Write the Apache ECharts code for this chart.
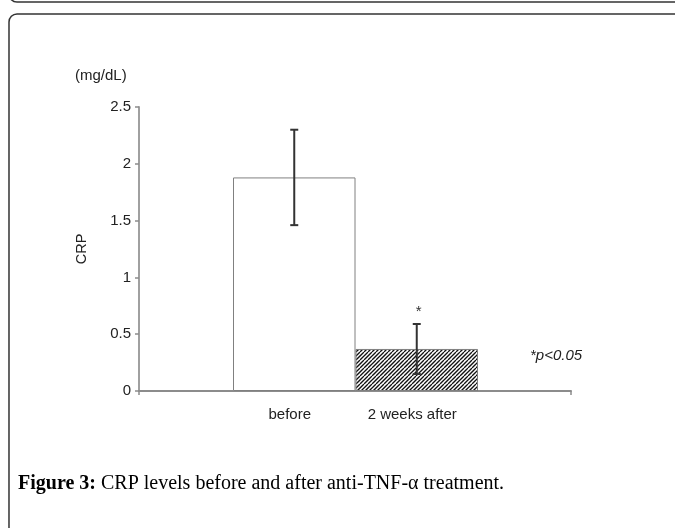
<!DOCTYPE html>
<html>
<head>
<meta charset="utf-8">
<script src="https://cdn.jsdelivr.net/npm/echarts@6/dist/echarts.min.js"></script>
<style>
html,body{margin:0;padding:0;background:#fff;}
#chart{width:675px;height:528px;}
</style>
</head>
<body>
<div id="chart"></div>
<script>
// ---- data ----
var categories = ['before', '2 weeks after'];
var crpMeans = [1.88, 0.37];
var crpErrors = [0.42, 0.22];
var significance = ['', '*'];
var yTicks = [0, 0.5, 1, 1.5, 2, 2.5];
var yUnit = '(mg/dL)';
var yName = 'CRP';
var pNote = '*p<0.05';
var captionBold = 'Figure 3:';
var captionText = ' CRP levels before and after anti-TNF-α treatment.';

// hatch pattern
var pat = document.createElement('canvas');
pat.width = 8; pat.height = 8;
var c = pat.getContext('2d');
c.fillStyle = '#fff'; c.fillRect(0, 0, 8, 8);
c.strokeStyle = '#111'; c.lineWidth = 1.3;
for (var k = -8; k <= 16; k += 4) {
  c.beginPath(); c.moveTo(k, 8); c.lineTo(k + 8, 0); c.stroke();
}

var chart = echarts.init(document.getElementById('chart'), null, {renderer: 'canvas'});
var axisFont = 'Liberation Sans, Arial, sans-serif';

var option = {
  backgroundColor: '#fff',
  animation: false,
  title: {
    left: 13, top: 469,
    text: '{b|' + captionBold + '}{n|' + captionText + '}',
    textStyle: {
      rich: {
        b: {fontFamily: 'Liberation Serif, serif', fontWeight: 'bold', fontSize: 20, color: '#000'},
        n: {fontFamily: 'Liberation Serif, serif', fontWeight: 'normal', fontSize: 20, color: '#000'}
      }
    }
  },
  grid: [
    {left: 139, top: 107, width: 432, height: 284},
    {left: 233, top: 107, width: 245, height: 284}
  ],
  xAxis: [
    {
      gridIndex: 0, type: 'category', data: [''],
      axisLine: {lineStyle: {color: '#8c8c8c', width: 2}},
      axisTick: {show: true, length: 4, lineStyle: {color: '#8c8c8c', width: 1.5}},
      axisLabel: {show: false}
    },
    {
      gridIndex: 1, type: 'category', data: categories,
      axisLine: {show: false}, axisTick: {show: false},
      axisLabel: {margin: 16, padding: [0, 9, 0, 0], fontFamily: axisFont, fontSize: 15, color: '#222'}
    }
  ],
  yAxis: [
    {
      gridIndex: 0, type: 'value', min: yTicks[0], max: yTicks[yTicks.length - 1], interval: yTicks[1] - yTicks[0],
      name: yName, nameLocation: 'middle', nameGap: 50, nameRotate: 90,
      nameTextStyle: {fontFamily: axisFont, fontSize: 14.5, color: '#222'},
      axisLine: {show: true, lineStyle: {color: '#a0a0a0', width: 2}},
      axisTick: {show: true, length: 4, lineStyle: {color: '#8c8c8c', width: 1.5}},
      axisLabel: {margin: 8, fontFamily: axisFont, fontSize: 15, color: '#222'},
      splitLine: {show: false}
    },
    {
      gridIndex: 1, type: 'value', min: yTicks[0], max: yTicks[yTicks.length - 1], show: false
    }
  ],
  graphic: [
    {type: 'rect', shape: {x: 9, y: -600, width: 720, height: 602, r: 8}, style: {fill: 'none', stroke: '#333', lineWidth: 1.5}, silent: true},
    {type: 'rect', shape: {x: 9, y: 14, width: 720, height: 600, r: 8}, style: {fill: 'none', stroke: '#333', lineWidth: 1.5}, silent: true},
    {type: 'text', left: 75, top: 68, style: {text: yUnit, font: '15px Liberation Sans, Arial, sans-serif', fill: '#222'}},
    {type: 'text', left: 530, top: 348, style: {text: pNote, font: 'italic 15px Liberation Sans, Arial, sans-serif', fill: '#222'}}
  ],
  series: [
    {
      type: 'bar', xAxisIndex: 1, yAxisIndex: 1, barWidth: '100%', barGap: '0%',
      data: crpMeans.map(function (v, i) {
        return {
          value: v,
          itemStyle: i === 0
            ? {color: '#fff', borderColor: '#808080', borderWidth: 1}
            : {color: {image: pat, repeat: 'repeat'}, borderColor: '#808080', borderWidth: 1}
        };
      })
    },
    {
      type: 'custom', xAxisIndex: 1, yAxisIndex: 1,
      data: crpMeans.map(function (v, i) { return [i, v, crpErrors[i]]; }),
      renderItem: function (params, api) {
        var x = api.value(0), m = api.value(1), e = api.value(2);
        var top = api.coord([x, m + e]);
        var bot = api.coord([x, m - e]);
        var cap = 4;
        var st = {stroke: '#333', lineWidth: 2};
        var children = [
          {type: 'line', shape: {x1: top[0], y1: top[1], x2: bot[0], y2: bot[1]}, style: st},
          {type: 'line', shape: {x1: top[0] - cap, y1: top[1], x2: top[0] + cap, y2: top[1]}, style: st},
          {type: 'line', shape: {x1: bot[0] - cap, y1: bot[1], x2: bot[0] + cap, y2: bot[1]}, style: st}
        ];
        var s = significance[params.dataIndex];
        if (s) {
          children.push({type: 'text', style: {text: s, x: top[0] + 2, y: top[1] - 5, textAlign: 'center', textVerticalAlign: 'bottom', font: '15px Liberation Sans, Arial, sans-serif', fill: '#333'}});
        }
        return {type: 'group', children: children};
      },
      z: 5
    }
  ]
};
chart.setOption(option);
</script>
</body>
</html>
